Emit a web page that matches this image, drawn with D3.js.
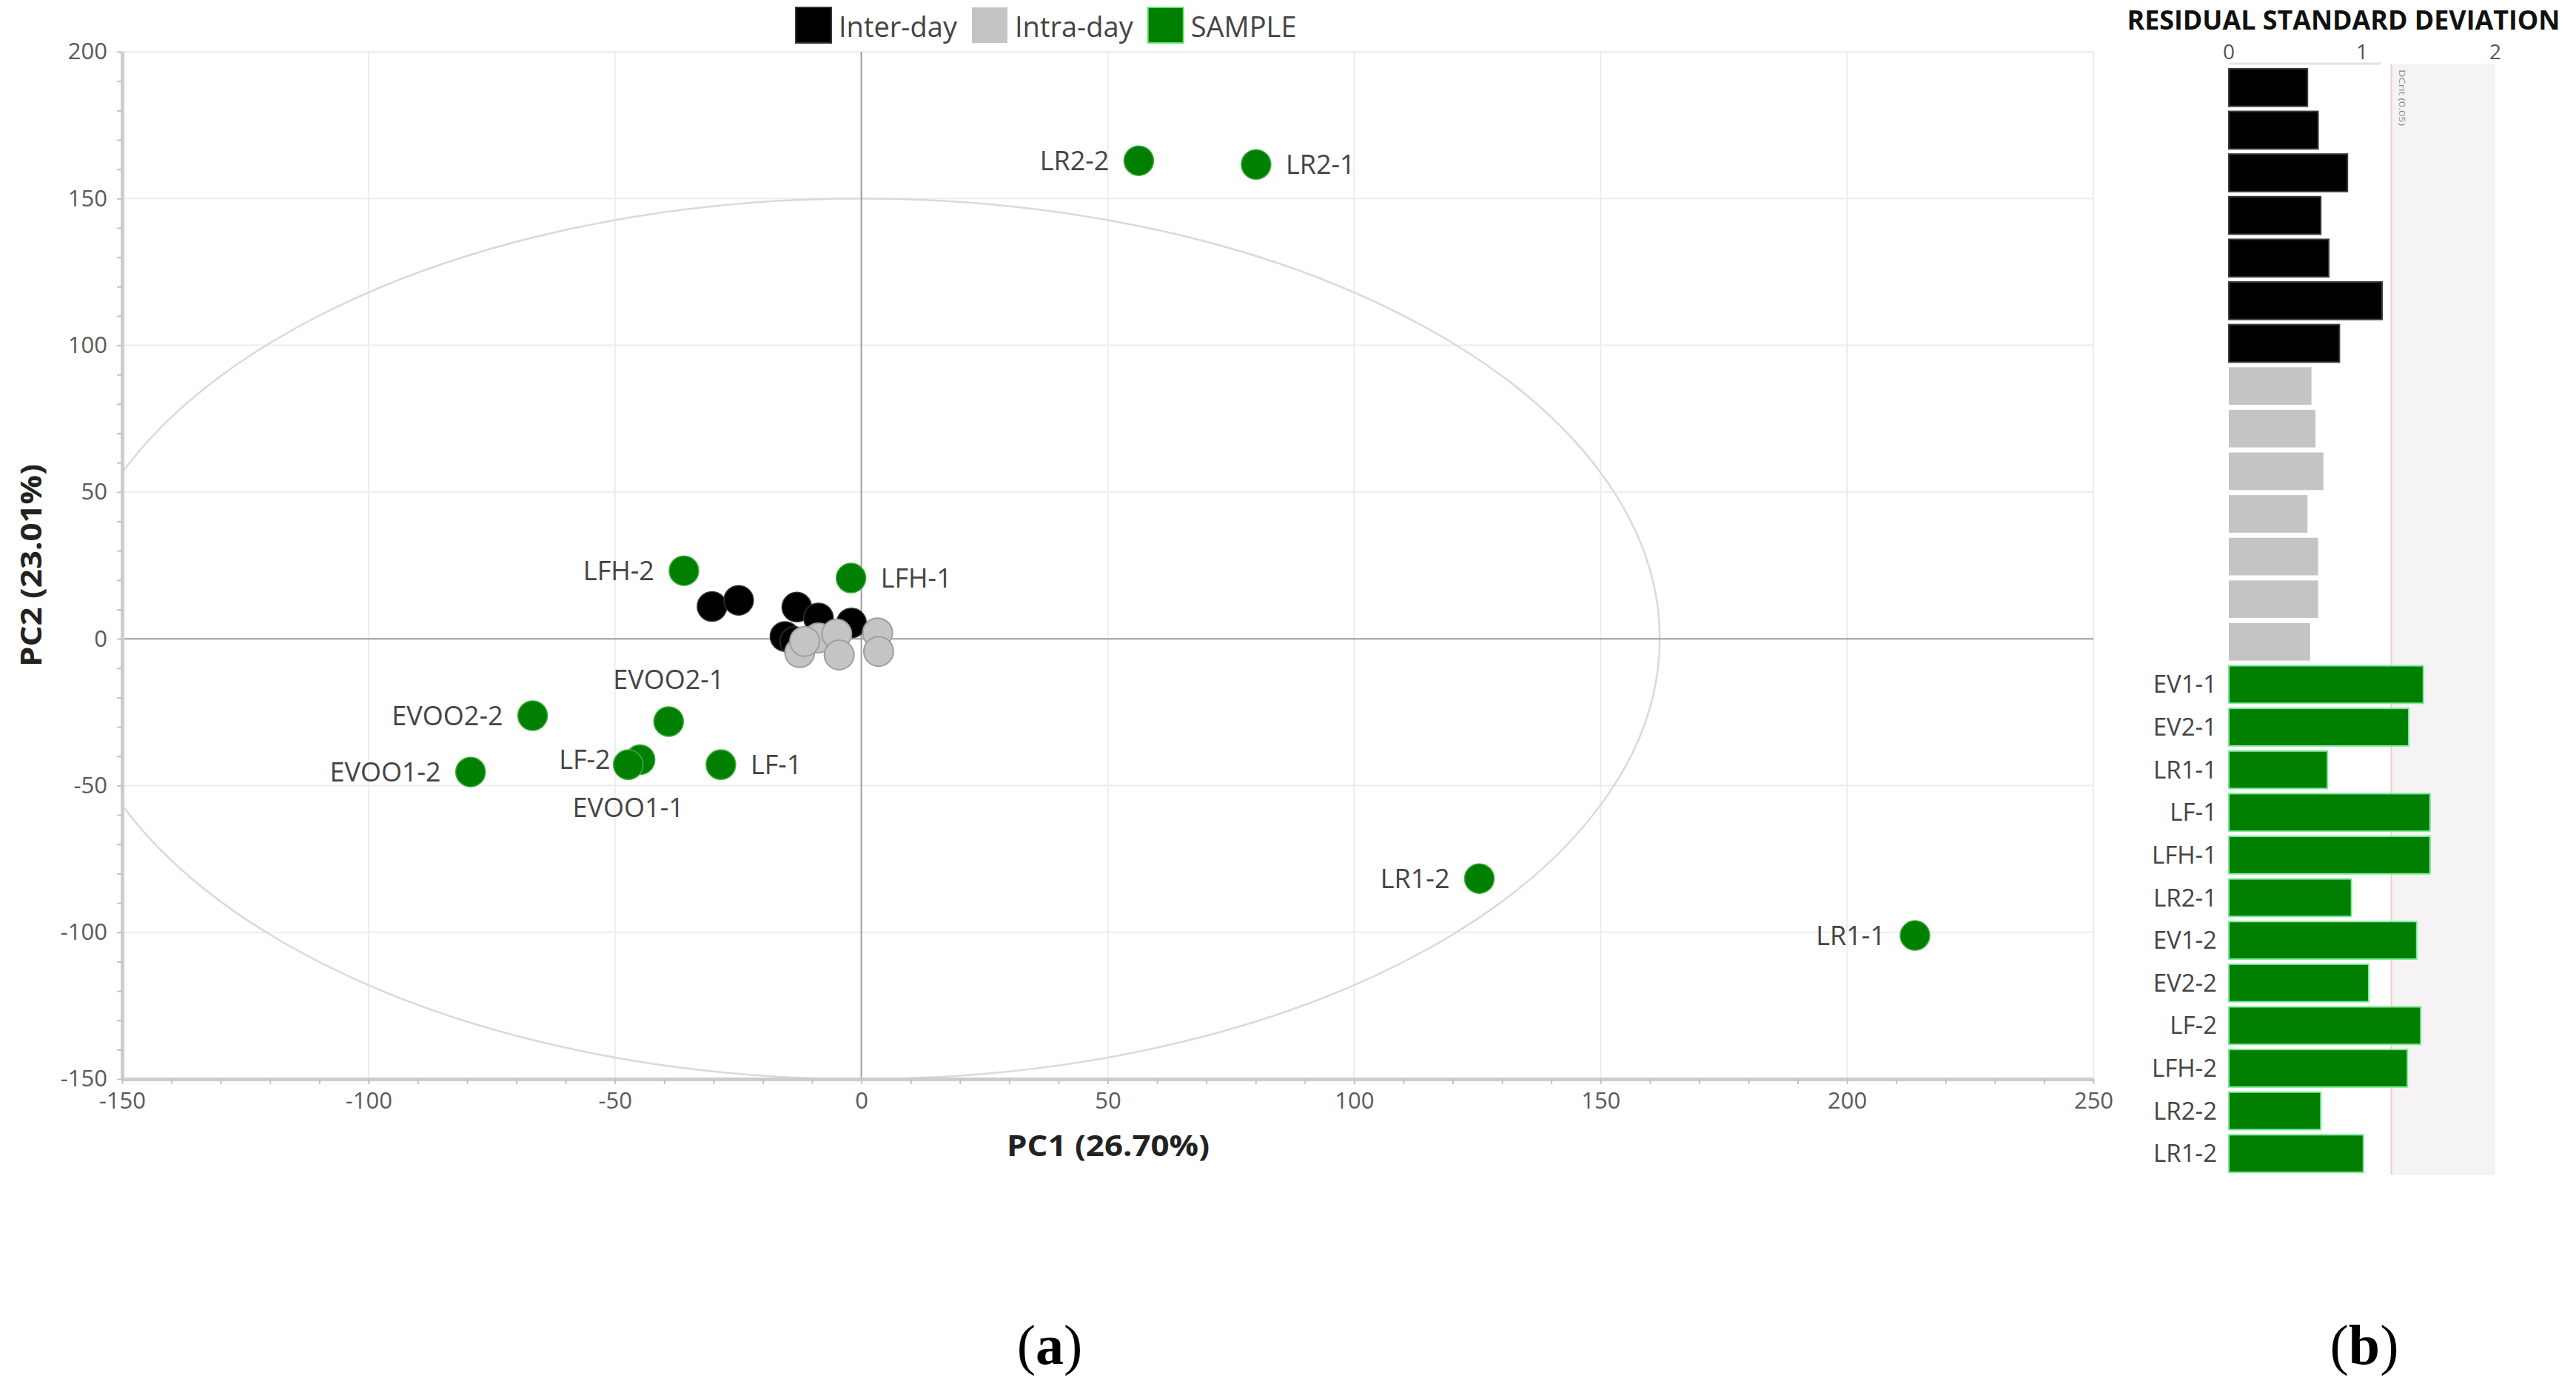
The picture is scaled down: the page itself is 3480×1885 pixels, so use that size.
<!DOCTYPE html>
<html>
<head>
<meta charset="utf-8">
<script src="https://cdn.jsdelivr.net/npm/d3@7"></script>
<style>
  body { margin: 0; background: #fff; }
  svg { display: block; font-family: "Open Sans", "Noto Sans", sans-serif; }
</style>
</head>
<body>
<div id="chart"></div>
<script>
// PCA scores (PC1, PC2)
const interX = [-30.3, -24.9, -13.1, -8.7, -2.0, -15.5, -13.5];
const interY = [11.0, 13.1, 10.8, 7.1, 5.4, 0.8, -0.9];
const intraX = [-8.7, -5.0, -4.5, 3.3, 3.5, -12.5, -11.5];
const intraY = [0.3, 1.6, -5.5, 2.0, -4.3, -4.7, -0.9];
const sampleNames = ["LR2-2", "LR2-1", "LFH-2", "LFH-1", "EVOO2-2", "EVOO2-1", "LF-2", "EVOO1-1", "LF-1", "EVOO1-2", "LR1-2", "LR1-1"];
const sampleX = [56.3, 80.1, -36.0, -2.1, -66.7, -39.1, -44.9, -47.3, -28.5, -79.3, 125.4, 213.8];
const sampleY = [162.9, 161.6, 23.2, 20.7, -26.2, -28.2, -41.2, -42.9, -42.9, -45.4, -81.7, -101.1];
const sampleLabelSide = ["left", "right", "left", "right", "left", "above", "left", "below", "right", "left", "left", "left"];

// Hotelling ellipse semi axes (PC units)
const ellipseA = 162;
const ellipseB = 150;

const xTicks = [-150, -100, -50, 0, 50, 100, 150, 200, 250];
const yTicks = [-150, -100, -50, 0, 50, 100, 150, 200];

const legendNames = ["Inter-day", "Intra-day", "SAMPLE"];
const legendColors = ["#000000", "#c4c4c4", "#007f00"];

// residual standard deviation
const interRSD = [0.59, 0.67, 0.89, 0.69, 0.75, 1.15, 0.83];
const intraRSD = [0.62, 0.65, 0.71, 0.59, 0.67, 0.67, 0.61];
const barSampleNames = ["EV1-1", "EV2-1", "LR1-1", "LF-1", "LFH-1", "LR2-1", "EV1-2", "EV2-2", "LF-2", "LFH-2", "LR2-2", "LR1-2"];
const sampleRSD = [1.46, 1.35, 0.74, 1.51, 1.51, 0.92, 1.41, 1.05, 1.44, 1.34, 0.69, 1.01];
const criticalRSD = 1.22;
const rsdTicks = [0, 1, 2];

const width = 3480, height = 1885;

const svg = d3.select("#chart").append("svg")
  .attr("width", width)
  .attr("height", height);

svg.append("rect").attr("width", width).attr("height", height).attr("fill", "#fff");

// ---------- (a) score plot ----------
const x = d3.scaleLinear().domain([-150, 250]).range([165, 2828]);
const y = d3.scaleLinear().domain([-150, 200]).range([1458, 70]);

svg.append("clipPath").attr("id", "plotClip")
  .append("rect")
  .attr("x", x(-150)).attr("y", y(200))
  .attr("width", x(250) - x(-150)).attr("height", y(-150) - y(200));

const grid = svg.append("g").attr("stroke", "#ececec").attr("stroke-width", 2);
grid.selectAll(".vg").data(xTicks.filter(d => d !== -150 && d !== 0)).join("line")
  .attr("x1", d => x(d)).attr("x2", d => x(d))
  .attr("y1", y(200)).attr("y2", y(-150));
grid.selectAll(".hg").data(yTicks.filter(d => d !== -150 && d !== 0)).join("line")
  .attr("y1", d => y(d)).attr("y2", d => y(d))
  .attr("x1", x(-150)).attr("x2", x(250));

svg.append("ellipse")
  .attr("clip-path", "url(#plotClip)")
  .attr("cx", x(0)).attr("cy", y(0))
  .attr("rx", x(ellipseA) - x(0)).attr("ry", y(0) - y(ellipseB))
  .attr("fill", "none").attr("stroke", "#dadada").attr("stroke-width", 2.5);

// zero lines
svg.append("line")
  .attr("x1", x(0)).attr("x2", x(0)).attr("y1", y(200)).attr("y2", y(-150))
  .attr("stroke", "#9c9c9c").attr("stroke-width", 2);
svg.append("line")
  .attr("x1", x(-150)).attr("x2", x(250)).attr("y1", y(0)).attr("y2", y(0))
  .attr("stroke", "#9c9c9c").attr("stroke-width", 2);

// axes: minor ticks + thick domain
const yMinor = svg.append("g").attr("transform", `translate(${x(-150)},0)`)
  .call(d3.axisLeft(y).tickValues(d3.range(-150, 201, 10)).tickSize(7).tickFormat("").tickSizeOuter(0));
const xMinor = svg.append("g").attr("transform", `translate(0,${y(-150)})`)
  .call(d3.axisBottom(x).tickValues(d3.range(-150, 251, 10)).tickSize(7).tickFormat("").tickSizeOuter(0));
[yMinor, xMinor].forEach(g => {
  g.select(".domain").attr("stroke", "#cdcdcd").attr("stroke-width", 5);
  g.selectAll(".tick line").attr("stroke", "#c2c2c2").attr("stroke-width", 2);
});

const plainNum = d => String(d);
const yLab = svg.append("g").attr("transform", `translate(${x(-150)},0)`)
  .call(d3.axisLeft(y).tickValues(yTicks).tickSize(0).tickPadding(20).tickFormat(plainNum));
const xLab = svg.append("g").attr("transform", `translate(0,${y(-150)})`)
  .call(d3.axisBottom(x).tickValues(xTicks).tickSize(0).tickPadding(18).tickFormat(plainNum));
[yLab, xLab].forEach(g => {
  g.select(".domain").remove();
  g.selectAll("text")
    .attr("font-size", 31)
    .attr("font-family", "'Open Sans', sans-serif")
    .attr("fill", "#5a5a5a");
});

// axis titles
svg.append("text")
  .attr("x", 1497).attr("y", 1562)
  .attr("text-anchor", "middle")
  .attr("font-size", 40).attr("font-weight", "bold").attr("fill", "#222")
  .attr("textLength", 274).attr("lengthAdjust", "spacingAndGlyphs")
  .text("PC1 (26.70%)");
svg.append("text")
  .attr("transform", `translate(56,${y(25)}) rotate(-90)`)
  .attr("text-anchor", "middle")
  .attr("font-size", 40).attr("font-weight", "bold").attr("fill", "#222")
  .attr("textLength", 274).attr("lengthAdjust", "spacingAndGlyphs")
  .text("PC2 (23.01%)");

// points
const pts = svg.append("g");
pts.selectAll(".inter").data(interX.map((d, i) => [d, interY[i]])).join("circle")
  .attr("cx", d => x(d[0])).attr("cy", d => y(d[1])).attr("r", 20)
  .attr("fill", "#000").attr("stroke", "#333").attr("stroke-width", 1.5);
pts.selectAll(".intra").data(intraX.map((d, i) => [d, intraY[i]])).join("circle")
  .attr("cx", d => x(d[0])).attr("cy", d => y(d[1])).attr("r", 20)
  .attr("fill", "#c4c4c4").attr("stroke", "#9e9e9e").attr("stroke-width", 2);

const samples = sampleNames.map((n, i) => ({ name: n, px: sampleX[i], py: sampleY[i], side: sampleLabelSide[i] }));
pts.selectAll(".sample").data(samples).join("circle")
  .attr("cx", d => x(d.px)).attr("cy", d => y(d.py)).attr("r", 20)
  .attr("fill", "#007f00").attr("stroke", "#3fae3f").attr("stroke-width", 1.5);

const labelOffset = 40;
svg.append("g").selectAll("text").data(samples).join("text")
  .attr("x", d => x(d.px) + (d.side === "left" ? -labelOffset : d.side === "right" ? labelOffset : 0))
  .attr("y", d => y(d.py) + (d.side === "above" ? -57 : d.side === "below" ? 58 : 0))
  .attr("dy", "0.35em")
  .attr("text-anchor", d => d.side === "left" ? "end" : d.side === "right" ? "start" : "middle")
  .attr("font-size", 36).attr("fill", "#444")
  .text(d => d.name);

// legend
const legend = svg.append("g").attr("transform", "translate(1075,10)");
let lx = 0;
legendNames.forEach((name, i) => {
  legend.append("rect")
    .attr("x", lx).attr("y", 0).attr("width", 48).attr("height", 48)
    .attr("fill", legendColors[i])
    .attr("stroke", i === 2 ? "#6fe06f" : i === 0 ? "#333" : "none").attr("stroke-width", 2);
  const t = legend.append("text")
    .attr("x", lx + 58).attr("y", 40)
    .attr("font-size", 38).attr("fill", "#444")
    .text(name);
  lx += 58 + t.node().getComputedTextLength() + 20;
});

// ---------- (b) residual standard deviation ----------
const rsd = [
  ...interRSD.map(v => ({ v, label: "", fill: "#000", stroke: "#3a3a3a" })),
  ...intraRSD.map(v => ({ v, label: "", fill: "#c4c4c4", stroke: "none" })),
  ...sampleRSD.map((v, i) => ({ v, label: barSampleNames[i], fill: "#007f00", stroke: "#7ee89a" }))
];

const bx = d3.scaleLinear().domain([0, 2]).range([3011, 3371]);
const by = d3.scaleBand().domain(d3.range(rsd.length)).range([86, 1591]).padding(0.12);

svg.append("rect")
  .attr("x", bx(criticalRSD)).attr("y", 86)
  .attr("width", bx(2) - bx(criticalRSD)).attr("height", 1588 - 86)
  .attr("fill", "#f5f3f3");
svg.append("line")
  .attr("x1", bx(criticalRSD)).attr("x2", bx(criticalRSD)).attr("y1", 86).attr("y2", 1588)
  .attr("stroke", "#f2cccc").attr("stroke-width", 2);
svg.append("text")
  .attr("transform", `translate(${bx(criticalRSD) + 10},94) rotate(90)`)
  .attr("font-size", 11).attr("fill", "#888")
  .attr("textLength", 76).attr("lengthAdjust", "spacingAndGlyphs")
  .text("DCrit (0.05)");

svg.append("line")
  .attr("x1", bx(0)).attr("x2", bx(criticalRSD) - 14).attr("y1", 86).attr("y2", 86)
  .attr("stroke", "#e4e4e4").attr("stroke-width", 3);

svg.append("g").selectAll("text").data(rsdTicks).join("text")
  .attr("x", d => bx(d)).attr("y", 80)
  .attr("text-anchor", "middle")
  .attr("font-size", 28).attr("fill", "#555")
  .text(d => d);

svg.append("text")
  .attr("x", 3166).attr("y", 40)
  .attr("text-anchor", "middle")
  .attr("font-size", 35).attr("font-weight", "bold").attr("fill", "#111")
  .attr("textLength", 585).attr("lengthAdjust", "spacingAndGlyphs")
  .text("RESIDUAL STANDARD DEVIATION");

svg.append("g").selectAll("rect").data(rsd).join("rect")
  .attr("x", bx(0)).attr("y", (d, i) => by(i))
  .attr("width", d => bx(d.v) - bx(0)).attr("height", by.bandwidth())
  .attr("fill", d => d.fill)
  .attr("stroke", d => d.stroke).attr("stroke-width", 2);

svg.append("g").selectAll("text").data(rsd).join("text")
  .attr("x", bx(0) - 16).attr("y", (d, i) => by(i) + by.bandwidth() / 2)
  .attr("dy", "0.35em").attr("text-anchor", "end")
  .attr("font-size", 33).attr("fill", "#444")
  .text(d => d.label);

// panel letters
[["a", 1418], ["b", 3194]].forEach(([letter, cx]) => {
  const t = svg.append("text")
    .attr("x", cx).attr("y", 1843)
    .attr("text-anchor", "middle")
    .attr("font-family", "'Liberation Serif', 'Times New Roman', serif")
    .attr("font-size", 76).attr("fill", "#000");
  t.append("tspan").text("(");
  t.append("tspan").attr("font-weight", "bold").text(letter);
  t.append("tspan").text(")");
});
</script>
</body>
</html>
